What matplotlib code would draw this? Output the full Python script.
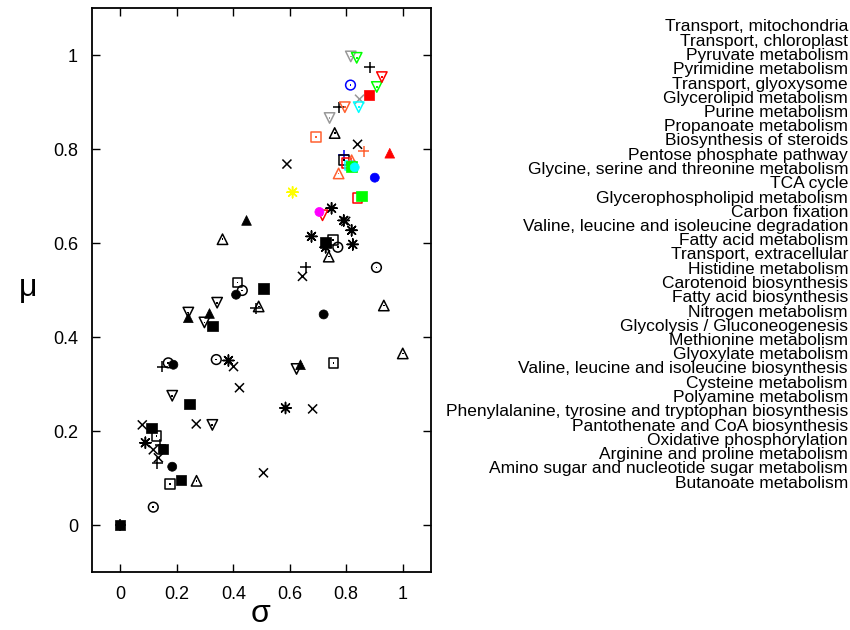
import matplotlib
matplotlib.use('Agg')
import matplotlib.pyplot as plt

plt.rcParams['font.family'] = ['Liberation Sans', 'DejaVu Sans']

pathways = [
    'Transport, mitochondria', 'Transport, chloroplast', 'Pyruvate metabolism',
    'Pyrimidine metabolism', 'Transport, glyoxysome', 'Glycerolipid metabolism',
    'Purine metabolism', 'Propanoate metabolism', 'Biosynthesis of steroids',
    'Pentose phosphate pathway', 'Glycine, serine and threonine metabolism',
    'TCA cycle', 'Glycerophospholipid metabolism', 'Carbon fixation',
    'Valine, leucine and isoleucine degradation', 'Fatty acid metabolism',
    'Transport, extracellular', 'Histidine metabolism', 'Carotenoid biosynthesis',
    'Fatty acid biosynthesis', 'Nitrogen metabolism', 'Glycolysis / Gluconeogenesis',
    'Methionine metabolism', 'Glyoxylate metabolism',
    'Valine, leucine and isoleucine biosynthesis', 'Cysteine metabolism',
    'Polyamine metabolism', 'Phenylalanine, tyrosine and tryptophan biosynthesis',
    'Pantothenate and CoA biosynthesis', 'Oxidative phosphorylation',
    'Arginine and proline metabolism', 'Amino sugar and nucleotide sugar metabolism',
    'Butanoate metabolism',
]

# points grouped by symbol: sigma, mu, colour
plus_sigma = [0.883, 0.773, 0.656, 0.479, 0.149, 0.142, 0.131, 0.0, 0.791, 0.862]
plus_mu = [0.974, 0.889, 0.548, 0.461, 0.337, 0.171, 0.132, 0.0, 0.787, 0.795]
plus_color = ['k', 'k', 'k', 'k', 'k', 'k', 'k', 'k', 'blue', 'orange']

cross_sigma = [0.840, 0.590, 0.798, 0.645, 0.401, 0.422, 0.681, 0.507, 0.269, 0.078, 0.117, 0.135, 0.847]
cross_mu = [0.810, 0.768, 0.646, 0.529, 0.337, 0.292, 0.247, 0.111, 0.215, 0.213, 0.160, 0.143, 0.906]
cross_color = ['k'] * 12 + ['gray']

star_sigma = [0.748, 0.791, 0.819, 0.677, 0.823, 0.727, 0.383, 0.585, 0.089, 0.610]
star_mu = [0.674, 0.648, 0.627, 0.614, 0.597, 0.591, 0.350, 0.249, 0.175, 0.708]
star_color = ['k'] * 9 + ['yellow']

osq_sigma = [0.791, 0.752, 0.415, 0.755, 0.128, 0.177, 0.801, 0.840, 0.692, 0.812]
osq_mu = [0.776, 0.606, 0.516, 0.345, 0.190, 0.087, 0.770, 0.696, 0.825, 0.765]
osq_color = ['k'] * 6 + ['red', 'red', 'orange', 'cyan']

fsq_sigma = [0.727, 0.507, 0.326, 0.245, 0.110, 0.152, 0.216, 0.0, 0.880, 0.819, 0.854]
fsq_mu = [0.601, 0.503, 0.424, 0.258, 0.207, 0.162, 0.096, 0.0, 0.915, 0.763, 0.700]
fsq_color = ['k'] * 8 + ['red', 'green', 'green']

ocirc_sigma = [0.770, 0.907, 0.432, 0.170, 0.340, 0.117, 0.815]
ocirc_mu = [0.591, 0.548, 0.499, 0.345, 0.352, 0.038, 0.936]
ocirc_color = ['k'] * 6 + ['blue']

fcirc_sigma = [0.410, 0.720, 0.188, 0.184, 0.901, 0.830, 0.705]
fcirc_mu = [0.490, 0.448, 0.341, 0.124, 0.739, 0.761, 0.666]
fcirc_color = ['k'] * 4 + ['blue', 'cyan', 'magenta']

otri_sigma = [0.759, 0.362, 0.738, 0.490, 0.933, 1.000, 0.270, 0.773, 0.819]
otri_mu = [0.834, 0.608, 0.571, 0.465, 0.467, 0.365, 0.094, 0.748, 0.776]
otri_color = ['k'] * 7 + ['orange', 'orange']

ftri_sigma = [0.447, 0.241, 0.316, 0.638, 0.954]
ftri_mu = [0.648, 0.441, 0.450, 0.341, 0.791]
ftri_color = ['k'] * 4 + ['red']

dtri_sigma = [0.343, 0.241, 0.298, 0.184, 0.326, 0.624, 0.816, 0.741, 0.837, 0.908, 0.926, 0.716, 0.795, 0.844]
dtri_mu = [0.473, 0.452, 0.431, 0.275, 0.213, 0.332, 0.997, 0.866, 0.994, 0.932, 0.953, 0.659, 0.889, 0.889]
dtri_color = ['k'] * 6 + ['gray', 'gray', 'green', 'green', 'red', 'red', 'orange', 'cyan']

palette = {'k': 'black', 'gray': '#999999', 'red': '#ff0000', 'green': '#00ff00',
           'blue': '#0000ff', 'cyan': '#00ffff', 'magenta': '#ff00ff',
           'yellow': '#ffff00', 'orange': '#ff6030'}

fig = plt.figure(figsize=(8.5, 6.3), dpi=100)
ax = fig.add_axes([92 / 850, 58 / 630, 339 / 850, 564 / 630])


def pts(ax, sig, mu, cols, marker, size, filled=False, dot=False):
    c = [palette[k] for k in cols]
    if filled:
        ax.scatter(sig, mu, s=size ** 2, marker=marker, c=c, edgecolors=c, linewidths=0.5)
    elif marker in ('+', 'x') or isinstance(marker, tuple):
        ax.scatter(sig, mu, s=size ** 2, marker=marker, c=c, linewidths=1.1)
    else:
        ax.scatter(sig, mu, s=size ** 2, marker=marker, facecolors='none', edgecolors=c, linewidths=1.1)
    if dot:
        ax.scatter(sig, mu, s=1.5, marker='s', c=c, linewidths=0)


pts(ax, cross_sigma, cross_mu, cross_color, 'x', 6.5)
pts(ax, plus_sigma, plus_mu, plus_color, '+', 8)
pts(ax, star_sigma, star_mu, star_color, (8, 2, 0), 8)
pts(ax, osq_sigma, osq_mu, osq_color, 's', 7, dot=True)
pts(ax, otri_sigma, otri_mu, otri_color, '^', 7.5, dot=True)
pts(ax, dtri_sigma, dtri_mu, dtri_color, 'v', 7.5, dot=True)
pts(ax, ocirc_sigma, ocirc_mu, ocirc_color, 'o', 7, dot=True)
pts(ax, fsq_sigma, fsq_mu, fsq_color, 's', 7.5, filled=True)
pts(ax, fcirc_sigma, fcirc_mu, fcirc_color, 'o', 6.5, filled=True)
pts(ax, ftri_sigma, ftri_mu, ftri_color, '^', 7, filled=True)

ax.set_xlim(-0.1, 1.1)
ax.set_ylim(-0.1, 1.1)
ticks = [0, 0.2, 0.4, 0.6, 0.8, 1]
ticklabels = ['0', '0.2', '0.4', '0.6', '0.8', '1']
ax.set_xticks(ticks)
ax.set_xticklabels(ticklabels)
ax.set_yticks(ticks)
ax.set_yticklabels(ticklabels)
ax.tick_params(direction='in', top=True, right=True, length=6, width=1,
               labelsize=13, pad=10)
for sp in ax.spines.values():
    sp.set_linewidth(1.3)

fig.text(261 / 850, 1 - 622 / 630, 'σ', fontsize=23, ha='center', va='baseline')
fig.text(28 / 850, 1 - 296 / 630, 'μ', fontsize=23, ha='center', va='baseline')

# key, right aligned
y0, step = 27, 14.25
for i, name in enumerate(pathways):
    fig.text(848 / 850, 1 - (y0 + i * step) / 630, name, fontsize=12.5,
             ha='right', va='center')

fig.savefig('out.png', dpi=100)
